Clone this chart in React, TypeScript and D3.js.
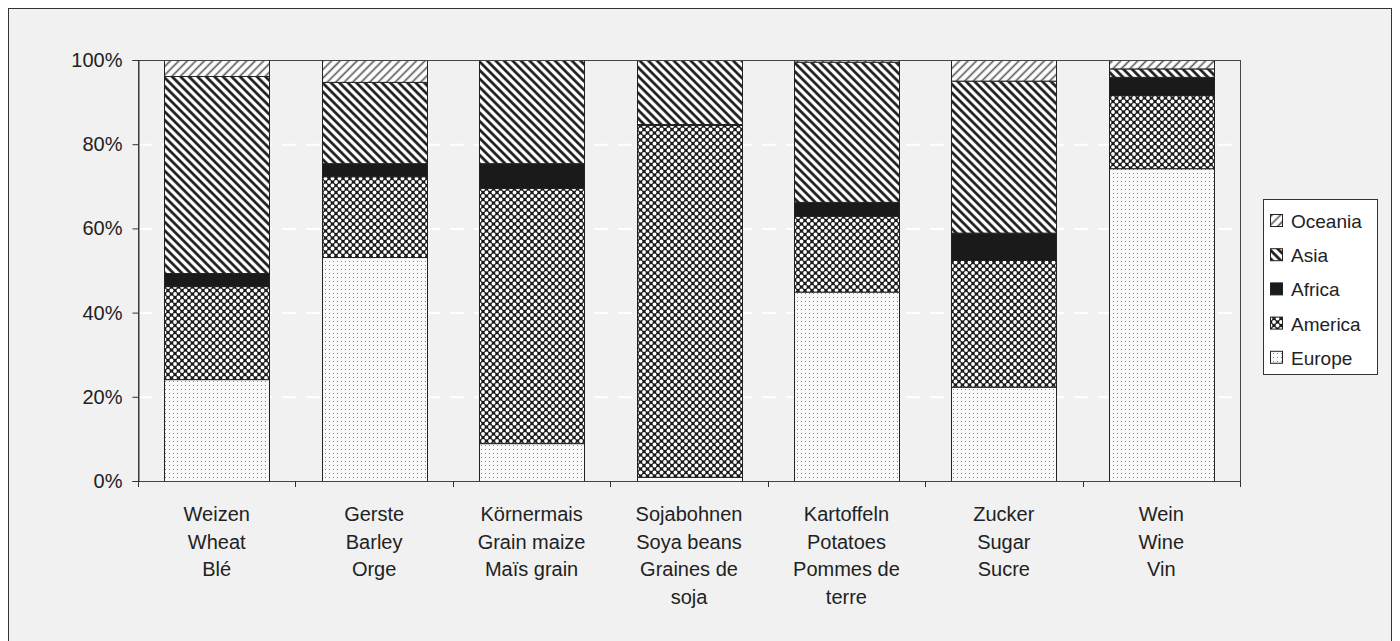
import React, { useEffect, useRef } from 'react';
import * as d3 from 'd3';

// crop names, three languages (some wrap to a fourth line)
const categories: string[][] = [
  ['Weizen', 'Wheat', 'Blé'],
  ['Gerste', 'Barley', 'Orge'],
  ['Körnermais', 'Grain maize', 'Maïs grain'],
  ['Sojabohnen', 'Soya beans', 'Graines de', 'soja'],
  ['Kartoffeln', 'Potatoes', 'Pommes de', 'terre'],
  ['Zucker', 'Sugar', 'Sucre'],
  ['Wein', 'Wine', 'Vin'],
];

// share of world production, %
const europe = [24.2, 53.2, 9.0, 1.0, 45.0, 22.4, 74.3];
const america = [22.1, 19.2, 60.6, 83.6, 18.0, 30.1, 17.4];
const africa = [3.1, 3.1, 5.9, 0.2, 3.3, 6.5, 4.3];
const asia = [46.8, 19.3, 24.5, 15.2, 33.3, 36.1, 2.0];
const oceania = [3.8, 5.2, 0.0, 0.0, 0.4, 4.9, 2.0];

const seriesNames = ['Europe', 'America', 'Africa', 'Asia', 'Oceania'];
const yTicks = [0, 20, 40, 60, 80, 100];

const FONT = '"Liberation Sans", Arial, Helvetica, sans-serif';
const FS = 20;

const App: React.FC = () => {
  const svgRef = useRef<SVGSVGElement>(null);

  useEffect(() => {
    if (!svgRef.current) return;
    const W = 1400;
    const H = 641;
    const plot = { left: 138, right: 1240, top: 60, bottom: 481 };

    const svg = d3.select(svgRef.current).attr('width', W).attr('height', H).html('');

    const rows = categories.map((c, i) => ({
      name: c[0],
      Europe: europe[i],
      America: america[i],
      Africa: africa[i],
      Asia: asia[i],
      Oceania: oceania[i],
    }));

    // patterns
    const defs = svg.append('defs');

    const pOce = defs.append('pattern').attr('id', 'p-oceania').attr('patternUnits', 'userSpaceOnUse')
      .attr('width', 6).attr('height', 6).attr('patternTransform', 'rotate(45)');
    pOce.append('rect').attr('width', 6).attr('height', 6).attr('fill', '#fff');
    pOce.append('line').attr('x1', 1.5).attr('x2', 1.5).attr('y1', 0).attr('y2', 6)
      .attr('stroke', '#555').attr('stroke-width', 1.6);

    const pAsia = defs.append('pattern').attr('id', 'p-asia').attr('patternUnits', 'userSpaceOnUse')
      .attr('width', 6).attr('height', 6).attr('patternTransform', 'rotate(-45)');
    pAsia.append('rect').attr('width', 6).attr('height', 6).attr('fill', '#fff');
    pAsia.append('line').attr('x1', 1.5).attr('x2', 1.5).attr('y1', 0).attr('y2', 6)
      .attr('stroke', '#111').attr('stroke-width', 2.6);

    const pAm = defs.append('pattern').attr('id', 'p-america').attr('patternUnits', 'userSpaceOnUse')
      .attr('width', 7).attr('height', 7);
    pAm.append('rect').attr('width', 7).attr('height', 7).attr('fill', '#1c1c1c');
    [[0, 0], [7, 0], [0, 7], [7, 7], [3.5, 3.5]].forEach(([cx, cy]) => {
      pAm.append('circle').attr('cx', cx).attr('cy', cy).attr('r', 1.9).attr('fill', '#fff');
    });

    const pEu = defs.append('pattern').attr('id', 'p-europe').attr('patternUnits', 'userSpaceOnUse')
      .attr('width', 4).attr('height', 4);
    pEu.append('rect').attr('width', 4).attr('height', 4).attr('fill', '#fafafa');
    pEu.append('rect').attr('x', 1).attr('y', 1).attr('width', 1).attr('height', 1).attr('fill', '#888');

    const fills: Record<string, string> = {
      Europe: 'url(#p-europe)',
      America: 'url(#p-america)',
      Africa: '#1a1a1a',
      Asia: 'url(#p-asia)',
      Oceania: 'url(#p-oceania)',
    };

    // background + frame
    svg.append('rect').attr('x', 0).attr('y', 0).attr('width', W).attr('height', H).attr('fill', '#fff');
    svg.append('rect').attr('x', 8.5).attr('y', 8.5).attr('width', 1383).attr('height', 650)
      .attr('fill', '#f1f1f1').attr('stroke', '#333').attr('stroke-width', 1);

    const x = d3.scaleBand<number>()
      .domain(d3.range(categories.length))
      .range([plot.left, plot.right])
      .paddingInner(1 / 3)
      .paddingOuter(1 / 6);

    const y = d3.scaleLinear().domain([0, 100]).range([plot.bottom, plot.top]);

    // gridlines
    svg.append('g')
      .selectAll('line')
      .data(yTicks.filter(t => t > 0 && t < 100))
      .join('line')
      .attr('x1', plot.left).attr('x2', plot.right)
      .attr('y1', d => y(d) + 0.5).attr('y2', d => y(d) + 0.5)
      .attr('stroke', '#fff').attr('stroke-width', 2).attr('stroke-dasharray', '14,10');

    // stacked bars
    const stack = d3.stack<any>().keys(seriesNames);
    const layers = stack(rows);

    svg.append('g')
      .selectAll('g')
      .data(layers)
      .join('g')
      .attr('fill', d => fills[d.key])
      .selectAll('rect')
      .data(d => d.map((s, i) => ({ s, i })))
      .join('rect')
      .attr('x', d => Math.round(x(d.i)!) + 0.5)
      .attr('width', Math.round(x.bandwidth()))
      .attr('y', d => y(d.s[1]) + 0.5)
      .attr('height', d => Math.max(0, y(d.s[0]) - y(d.s[1])))
      .attr('stroke', '#222')
      .attr('stroke-width', 1);

    // plot border
    svg.append('rect')
      .attr('x', plot.left + 0.5).attr('y', plot.top + 0.5)
      .attr('width', plot.right - plot.left).attr('height', plot.bottom - plot.top)
      .attr('fill', 'none').attr('stroke', '#444').attr('stroke-width', 1);

    // y axis
    const yAxis = d3.axisLeft(y).tickValues(yTicks).tickSize(6).tickPadding(10)
      .tickFormat(d => `${d}%`);
    const yG = svg.append('g').attr('transform', `translate(${plot.left + 0.5},0)`).call(yAxis);
    yG.select('.domain').attr('stroke', '#333');
    yG.selectAll('.tick line').attr('stroke', '#333');
    yG.selectAll('.tick text').attr('font-family', FONT).attr('font-size', FS).attr('fill', '#222');

    // x axis ticks between categories
    const step = x.step();
    const xTickPos = d3.range(categories.length + 1).map(i => plot.left + i * step);
    svg.append('g')
      .selectAll('line')
      .data(xTickPos)
      .join('line')
      .attr('x1', d => Math.round(d) + 0.5).attr('x2', d => Math.round(d) + 0.5)
      .attr('y1', plot.bottom).attr('y2', plot.bottom + 6)
      .attr('stroke', '#333');

    // category labels
    const labels = svg.append('g')
      .attr('font-family', FONT).attr('font-size', FS).attr('fill', '#222').attr('text-anchor', 'middle');
    categories.forEach((lines, i) => {
      const cx = x(i)! + x.bandwidth() / 2;
      lines.forEach((t, j) => {
        labels.append('text').attr('x', cx).attr('y', 521 + j * 27.6).text(t);
      });
    });

    // legend
    const lg = svg.append('g');
    lg.append('rect').attr('x', 1263.5).attr('y', 199.5).attr('width', 114).attr('height', 175)
      .attr('fill', '#fff').attr('stroke', '#333');
    const legendOrder = [...seriesNames].reverse();
    legendOrder.forEach((name, i) => {
      const cy = 221 + i * 34.2;
      lg.append('rect').attr('x', 1270.5).attr('y', cy - 6.5).attr('width', 12).attr('height', 12)
        .attr('fill', fills[name]).attr('stroke', '#222');
      lg.append('text').attr('x', 1291).attr('y', cy + 7)
        .attr('font-family', FONT).attr('font-size', FS - 1).attr('fill', '#222').text(name);
    });
  }, []);

  return <svg ref={svgRef} style={{ position: 'fixed', top: 0, left: 0, display: 'block' }} />;
};

export default App;
